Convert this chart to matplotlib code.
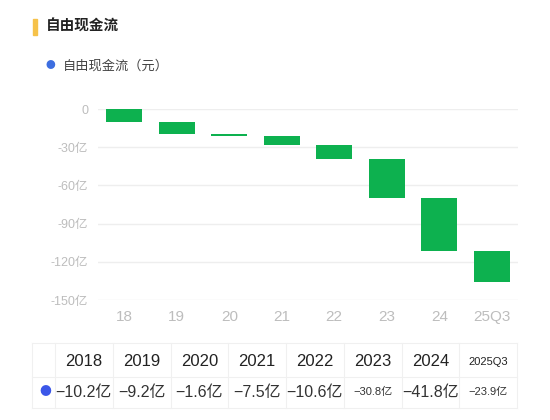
import matplotlib.pyplot as plt
from matplotlib.lines import Line2D
import numpy as np

plt.rcParams['font.family'] = ['Liberation Sans', 'Noto Sans CJK SC', 'DejaVu Sans']

years = ['2018', '2019', '2020', '2021', '2022', '2023', '2024', '2025Q3']
short_labels = ['18', '19', '20', '21', '22', '23', '24', '25Q3']
fcf = [-10.2, -9.2, -1.6, -7.5, -10.6, -30.8, -41.8, -23.9]  # 亿元
value_labels = ['−10.2亿', '−9.2亿', '−1.6亿', '−7.5亿', '−10.6亿', '−30.8亿', '−41.8亿', '−23.9亿']
small_cols = [5, 7]
yticks = [0, -30, -60, -90, -120, -150]
ytick_labels = ['0', '-30亿', '-60亿', '-90亿', '-120亿', '-150亿']

green = '#0db14f'
grey_txt = '#bdbdbd'
grid_c = '#eeeeee'

W, H = 550, 420
fig = plt.figure(figsize=(5.5, 4.2), dpi=100)
fig.patch.set_facecolor('white')

def fx(px):
    return px / W

def fy(py):
    return 1 - py / H

ax = fig.add_axes([fx(98), fy(300), fx(518) - fx(98), fy(109) - fy(300)])

ends = np.cumsum(fcf)
starts = ends - np.array(fcf)
x = np.arange(len(years))
ax.bar(x, np.array(fcf), bottom=starts, width=0.69, color=green, zorder=3)

ax.set_xlim(-0.5, len(years) - 0.5)
ax.set_ylim(-150, 0)
ax.set_yticks(yticks)
ax.set_yticklabels(ytick_labels)
ax.set_xticks(x)
ax.set_xticklabels(short_labels)
ax.yaxis.grid(True, color=grid_c, linewidth=1, zorder=0)
ax.set_axisbelow(True)
for s in ax.spines.values():
    s.set_visible(False)
ax.tick_params(axis='both', length=0, colors=grey_txt)
ax.tick_params(axis='y', labelsize=9, pad=7)
ax.tick_params(axis='x', labelsize=11, pad=7)

dot_font = ['Noto Sans CJK SC']

# header
fig.add_artist(plt.Rectangle((fx(33), fy(35)), fx(3.5), fy(19) - fy(35),
                             color='#f6c24a', transform=fig.transFigure))
fig.text(fx(46), fy(27), '自由现金流', fontsize=10.5, fontweight='bold',
         color='#222222', va='center', ha='left')
fig.text(fx(50), fy(65), '●', fontsize=7, color='#3d6ee0', va='center',
         ha='center', family=dot_font)
fig.text(fx(63), fy(66), '自由现金流（元）', fontsize=9.5, color='#444444',
         va='center', ha='left')

# table
left, first_w, col_w = 32, 23, 57.75
top, mid, bot = 343, 377, 408
right = left + first_w + col_w * len(years)
line_kw = dict(color='#f0f0f0', linewidth=0.8, transform=fig.transFigure)
for yy in (top, mid, bot):
    fig.add_artist(Line2D([fx(left), fx(right)], [fy(yy), fy(yy)], **line_kw))
vx = [left] + [left + first_w + col_w * i for i in range(len(years) + 1)]
for xx in vx:
    fig.add_artist(Line2D([fx(xx), fx(xx)], [fy(top), fy(bot)], **line_kw))

fig.text(fx(45), fy(392), '●', fontsize=8.5, color='#3b57e8', va='center',
         ha='center', family=dot_font)
for i, (yr, val) in enumerate(zip(years, value_labels)):
    cx = left + first_w + col_w * (i + 0.5)
    small = i == len(years) - 1
    fig.text(fx(cx), fy(362), yr, fontsize=8 if small else 12,
             color='#222222', ha='center', va='center')
    fig.text(fx(cx), fy(392), val, fontsize=8 if i in small_cols else 11.5,
             color='#333333', ha='center', va='center')

fig.savefig('out.png', dpi=100, facecolor='white')
